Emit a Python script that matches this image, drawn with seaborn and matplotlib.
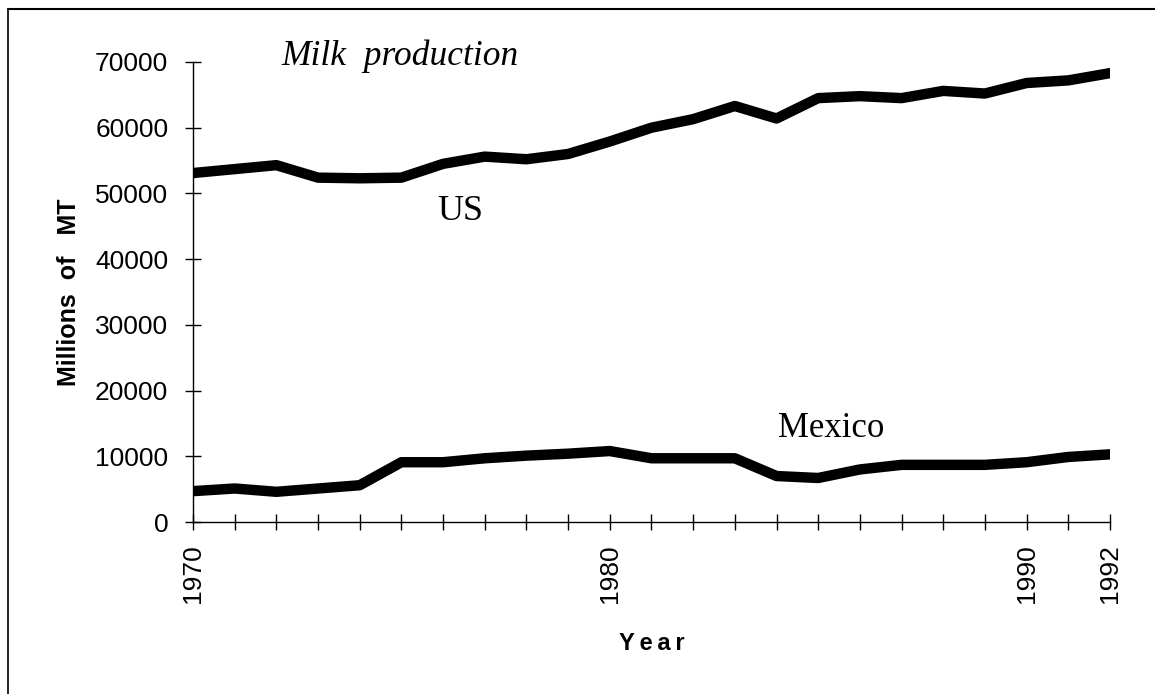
import pandas as pd
import matplotlib.pyplot as plt
import seaborn as sns
from matplotlib.lines import Line2D

# valores
anos = list(range(1970, 1993))
us = [53100, 53700, 54300, 52400, 52300, 52400, 54500, 55600, 55200, 56000,
      57900, 60000, 61300, 63300, 61400, 64500, 64800, 64500, 65600, 65200,
      66800, 67200, 68300]
mexico = [4700, 5100, 4600, 5100, 5600, 9100, 9100, 9700, 10100, 10400,
          10800, 9700, 9700, 9700, 7000, 6700, 8000, 8700, 8700, 8700,
          9100, 9900, 10300]
anos_rotulo = [1970, 1980, 1990, 1992]
y_ticks = [0, 10000, 20000, 30000, 40000, 50000, 60000, 70000]

dados = pd.DataFrame({
    "ano": anos * 2,
    "producao": us + mexico,
    "pais": ["US"] * len(anos) + ["Mexico"] * len(anos),
})

sns.set_style("white")
plt.rcParams['font.family'] = ['Liberation Sans', 'DejaVu Sans']
plt.rcParams['text.color'] = 'black'
plt.rcParams['axes.labelcolor'] = 'black'
plt.rcParams['xtick.color'] = 'black'
plt.rcParams['ytick.color'] = 'black'

fig = plt.figure(figsize=(11.55, 6.94), dpi=100)
ax = fig.add_axes([0.1671, 0.2478, 0.961 - 0.1671, 0.9107 - 0.2478])

sns.lineplot(data=dados, x="ano", y="producao", hue="pais",
             palette={"US": "black", "Mexico": "black"},
             linewidth=7.5, legend=False, ax=ax)

ax.set_xlim(1970, 1992)
ax.set_ylim(0, 70000)
ax.set_xticks(anos)
ax.set_xticklabels([str(a) if a in anos_rotulo else "" for a in anos],
                   rotation=90, fontsize=19)
ax.set_yticks(y_ticks)
ax.set_yticklabels([str(v) for v in y_ticks], fontsize=19)
ax.tick_params(axis="both", direction="inout", length=11.5, width=1,
               bottom=True, left=True, color="black")
ax.tick_params(axis="x", pad=10)
ax.tick_params(axis="y", pad=12)

for lado in ["top", "right"]:
    ax.spines[lado].set_visible(False)
for lado in ["left", "bottom"]:
    ax.spines[lado].set_color("black")
    ax.spines[lado].set_linewidth(1)

ax.set_xlabel("Y\u2009e\u2009a\u2009r", fontsize=17, fontweight="bold", labelpad=21)
ax.set_ylabel("Millions  of   MT", fontsize=18, fontweight="bold", labelpad=10)

serif = ['Liberation Serif', 'DejaVu Serif']
ax.text(1972.13, 69500, "Milk  production", fontsize=25.5, style="italic",
        family=serif, va="baseline", ha="left")
ax.text(1976.4, 45960, "US", fontsize=26, family=serif, va="baseline", ha="center")
ax.text(1985.32, 12930, "Mexico", fontsize=25, family=serif, va="baseline", ha="center")

# moldura
fig.add_artist(Line2D([0.007, 1.0], [0.987, 0.987], color="black", linewidth=1.5))
fig.add_artist(Line2D([0.007, 0.007], [0.0, 0.987], color="black", linewidth=1.2))

fig.savefig("out.png", dpi=100)
